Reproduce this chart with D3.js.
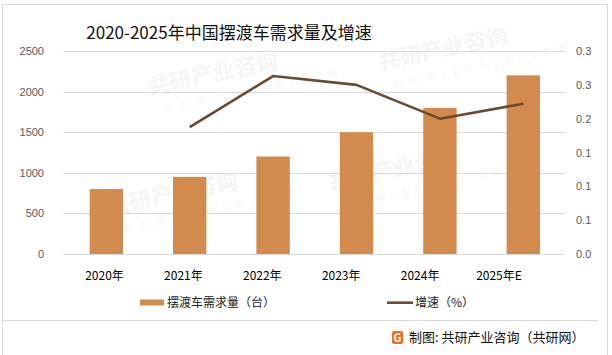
<!DOCTYPE html>
<html><head><meta charset="utf-8">
<script src="https://cdn.jsdelivr.net/npm/d3@7"></script>
<style>
html,body{margin:0;padding:0;background:#fff;}
svg{display:block;font-family:"Noto Sans CJK SC","Noto Sans",sans-serif;}
</style></head>
<body>
<svg id="c" width="612" height="355"></svg>
<script>
const categories = ["2020年","2021年","2022年","2023年","2024年","2025年E"];
const demand = [800, 950, 1200, 1500, 1800, 2200];
const growth = [null, 0.1875, 0.263, 0.25, 0.2, 0.222];
const leftTicks = [0, 500, 1000, 1500, 2000, 2500];
const rightTicks = [0, 0.05, 0.1, 0.15, 0.2, 0.25, 0.3];
const title = "2020-2025年中国摆渡车需求量及增速";
const legendLabels = ["摆渡车需求量（台）", "增速（%）"];
const source = "制图: 共研产业咨询（共研网）";

const svg = d3.select("#c");
const barColor = "#D38B4D", lineColor = "#6B4A2E";

// frame
svg.append("rect").attr("x",2.5).attr("y",4.5).attr("width",605).attr("height",355)
  .attr("fill","none").attr("stroke","#d9d9d9");
svg.append("line").attr("x1",2).attr("x2",598).attr("y1",320.5).attr("y2",320.5).attr("stroke","#d9d9d9");

// faint watermarks
const wm = svg.append("g").attr("fill","#f5f5f5");
[[150,95],[380,70],[110,215],[330,190]].forEach(([x,y])=>{
  const g = wm.append("g").attr("transform",`translate(${x},${y}) rotate(-12)`);
  g.append("text").attr("font-size",22).attr("font-weight","bold").text("共研产业咨询");
  g.append("text").attr("y",20).attr("x",10).attr("font-size",12).attr("letter-spacing",7).text("www.gonyn.com");
});

const x = d3.scaleBand().domain(categories).range([64.6, 565]).paddingInner(0.6).paddingOuter(0.3);
const xl = d3.scalePoint().domain(categories).range([104.5, 499]);
const yL = d3.scaleLinear().domain([0, 2500]).range([254, 51]);
const yR = d3.scaleLinear().domain([0, 0.3]).range([254, 51]);

// gridlines
svg.append("g").selectAll("line").data(leftTicks).join("line")
  .attr("x1",63).attr("x2",565).attr("y1",d=>Math.round(yL(d))+0.5).attr("y2",d=>Math.round(yL(d))+0.5)
  .attr("stroke","#d9d9d9").attr("stroke-width",1);

// left axis
const axL = d3.axisLeft(yL).tickValues(leftTicks).tickFormat(d3.format("d")).tickSize(0).tickPadding(0);
svg.append("g").attr("transform","translate(44,0)").call(axL)
  .call(g=>g.select(".domain").remove())
  .call(g=>g.selectAll("text").attr("fill","#595959").attr("font-size",11).attr("font-family","Liberation Sans, sans-serif"));

// right axis
const axR = d3.axisRight(yR).tickValues(rightTicks).tickFormat(d3.format(".1f")).tickSize(0).tickPadding(0);
svg.append("g").attr("transform","translate(576,0)").call(axR)
  .call(g=>g.select(".domain").remove())
  .call(g=>g.selectAll("text").attr("fill","#595959").attr("font-size",11).attr("font-family","Liberation Sans, sans-serif"));

// bars
svg.append("g").selectAll("rect").data(demand).join("rect")
  .attr("x",(d,i)=>x(categories[i])).attr("width",x.bandwidth())
  .attr("y",d=>yL(d)).attr("height",d=>yL(0)-yL(d)).attr("fill",barColor);

// line
const pts = growth.map((v,i)=>({c:categories[i],v})).filter(p=>p.v!=null);
svg.append("path").datum(pts)
  .attr("d", d3.line().x(p=>x(p.c)+x.bandwidth()/2).y(p=>yR(p.v)))
  .attr("fill","none").attr("stroke",lineColor).attr("stroke-width",2.6).attr("stroke-linejoin","round");

// category labels
svg.append("g").selectAll("text").data(categories).join("text")
  .attr("x",d=>xl(d)).attr("y",280).attr("text-anchor","middle")
  .attr("font-size",12).attr("fill","#000").text(d=>d);

// title
svg.append("text").attr("x",229).attr("y",39).attr("text-anchor","middle")
  .attr("font-size",17).attr("font-weight","normal").attr("fill","#111").text(title);

// legend
svg.append("rect").attr("x",140).attr("y",299.5).attr("width",24).attr("height",6).attr("fill",barColor);
svg.append("text").attr("x",167).attr("y",307).attr("font-size",12).attr("fill","#222").text(legendLabels[0]);
svg.append("line").attr("x1",387).attr("x2",413).attr("y1",302.7).attr("y2",302.7).attr("stroke",lineColor).attr("stroke-width",2.6);
svg.append("text").attr("x",415).attr("y",307).attr("font-size",12).attr("fill","#222").text(legendLabels[1]);

// footer logo + source
const logo = svg.append("g").attr("transform","translate(392,331)");
logo.append("rect").attr("width",11).attr("height",13).attr("rx",2).attr("fill","#F26B21");
logo.append("text").attr("x",5.5).attr("y",11).attr("text-anchor","middle").attr("font-size",11).attr("font-weight","bold").attr("fill","#fff").text("G");
svg.append("text").attr("x",409).attr("y",342).attr("font-size",13).attr("fill","#111").text(source);
</script>
</body></html>
